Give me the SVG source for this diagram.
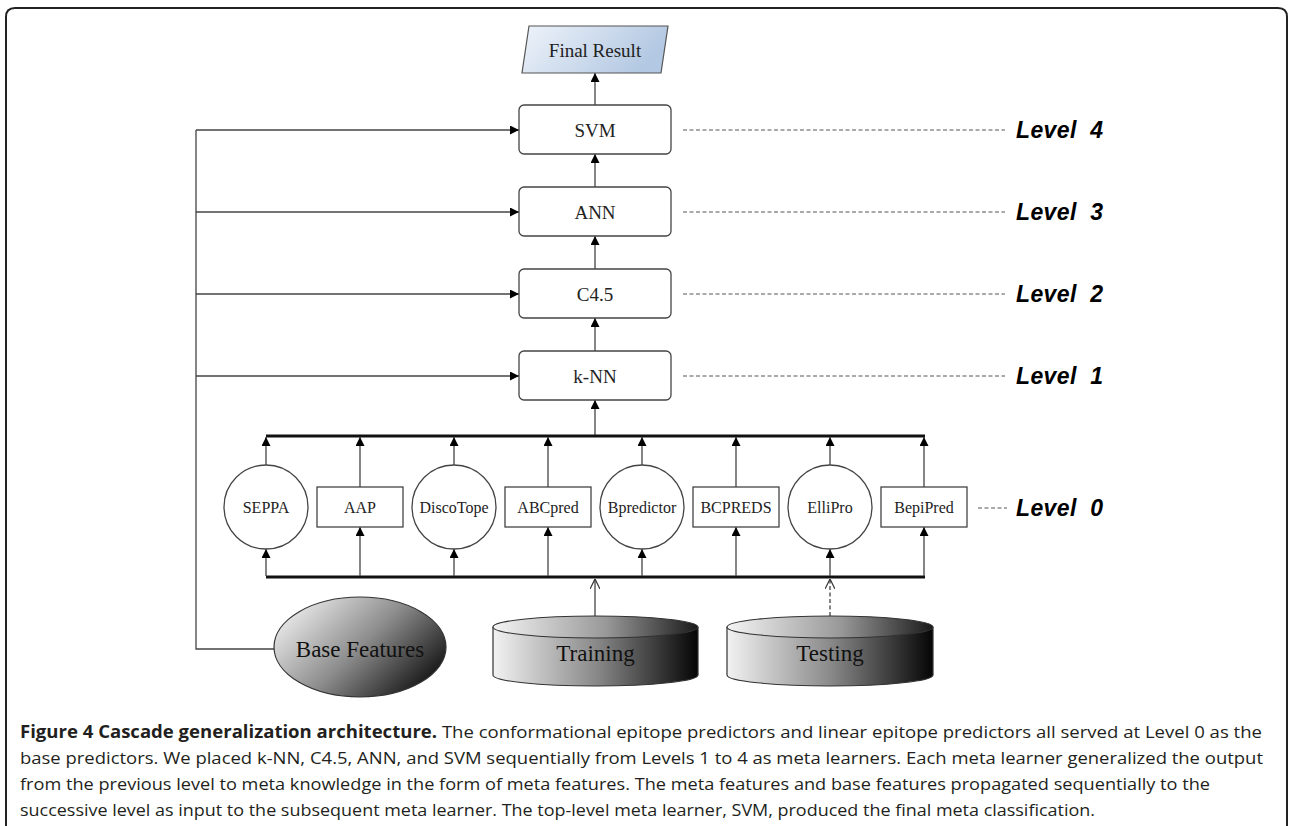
<svg xmlns="http://www.w3.org/2000/svg" width="1289" height="826" viewBox="0 0 1289 826">
<style>
.ln{stroke:#444;stroke-width:1.3;fill:none}
.bus{stroke:#111;stroke-width:3.2;fill:none}
.dash{stroke:#555;stroke-width:1;stroke-dasharray:4,2.5;fill:none}
.box{fill:#fff;stroke:#444;stroke-width:1.3}
.t16{font-family:"Liberation Serif","Times New Roman",serif;font-size:16px;fill:#222;text-anchor:middle;dominant-baseline:central}
.t19{font-family:"Liberation Serif","Times New Roman",serif;font-size:19px;fill:#222;text-anchor:middle;dominant-baseline:central}
.t23{font-family:"Liberation Serif","Times New Roman",serif;font-size:23px;fill:#111;text-anchor:middle;dominant-baseline:central}
.lv{font-family:"Liberation Sans",Arial,sans-serif;font-size:23px;font-weight:bold;font-style:italic;fill:#000;dominant-baseline:central}
.cap{font-family:"Open Sans","Noto Sans",sans-serif;font-size:17px;fill:#231f20}
</style>
<defs>
<marker id="ah" viewBox="0 0 10 10" refX="10" refY="5" markerWidth="9" markerHeight="9" markerUnits="userSpaceOnUse" orient="auto">
<path d="M0,0 L10,5 L0,10 z" fill="#000"/>
</marker>
<marker id="oa" viewBox="0 0 10 10" refX="10" refY="5" markerWidth="10" markerHeight="10" markerUnits="userSpaceOnUse" orient="auto">
<path d="M0,0 L10,5 L0,10" fill="none" stroke="#333" stroke-width="1.2"/>
</marker>
<linearGradient id="gBlue" x1="0" y1="0" x2="1" y2="0.3">
<stop offset="0" stop-color="#eef3fa"/>
<stop offset="1" stop-color="#b3c8e2"/>
</linearGradient>
<linearGradient id="gCyl" x1="0" y1="0" x2="1" y2="0">
<stop offset="0" stop-color="#f2f2f2"/>
<stop offset="0.5" stop-color="#8a8a8a"/>
<stop offset="1" stop-color="#050505"/>
</linearGradient>
<linearGradient id="gTop" x1="0" y1="0" x2="1" y2="0">
<stop offset="0" stop-color="#f4f4f4"/>
<stop offset="0.55" stop-color="#999"/>
<stop offset="1" stop-color="#1a1a1a"/>
</linearGradient>
<linearGradient id="gEll" x1="0" y1="0.2" x2="1" y2="0.8">
<stop offset="0" stop-color="#f0f0f0"/>
<stop offset="0.5" stop-color="#8c8c8c"/>
<stop offset="1" stop-color="#0a0a0a"/>
</linearGradient>
</defs>

<path d="M6,826 V17 Q6,8 15,8 H1278 Q1287,8 1287,17 V826" fill="none" stroke="#222" stroke-width="2"/>

<g id="connectors">
<line class="ln" x1="595" y1="105" x2="595" y2="73" marker-end="url(#ah)"/>
<line class="ln" x1="595" y1="187" x2="595" y2="154" marker-end="url(#ah)"/>
<line class="ln" x1="595" y1="269" x2="595" y2="236" marker-end="url(#ah)"/>
<line class="ln" x1="595" y1="351" x2="595" y2="318" marker-end="url(#ah)"/>
<line class="ln" x1="595" y1="436" x2="595" y2="400" marker-end="url(#ah)"/>
<path class="ln" d="M274,649 H196 V130"/>
<line class="ln" x1="196" y1="130" x2="519" y2="130" marker-end="url(#ah)"/>
<line class="ln" x1="196" y1="212" x2="519" y2="212" marker-end="url(#ah)"/>
<line class="ln" x1="196" y1="294" x2="519" y2="294" marker-end="url(#ah)"/>
<line class="ln" x1="196" y1="376" x2="519" y2="376" marker-end="url(#ah)"/>
<line class="dash" x1="683" y1="130" x2="1005" y2="130"/>
<line class="dash" x1="683" y1="212" x2="1005" y2="212"/>
<line class="dash" x1="683" y1="294" x2="1005" y2="294"/>
<line class="dash" x1="683" y1="376" x2="1005" y2="376"/>
<line class="dash" x1="978" y1="508" x2="1007" y2="508"/>
<line class="bus" x1="266" y1="436" x2="925" y2="436"/>
<line class="bus" x1="266" y1="577" x2="925" y2="577"/>
<line class="ln" x1="266" y1="465" x2="266" y2="437" marker-end="url(#ah)"/>
<line class="ln" x1="360" y1="487" x2="360" y2="437" marker-end="url(#ah)"/>
<line class="ln" x1="454" y1="465" x2="454" y2="437" marker-end="url(#ah)"/>
<line class="ln" x1="548" y1="487" x2="548" y2="437" marker-end="url(#ah)"/>
<line class="ln" x1="642" y1="465" x2="642" y2="437" marker-end="url(#ah)"/>
<line class="ln" x1="736" y1="487" x2="736" y2="437" marker-end="url(#ah)"/>
<line class="ln" x1="830" y1="465" x2="830" y2="437" marker-end="url(#ah)"/>
<line class="ln" x1="924" y1="487" x2="924" y2="437" marker-end="url(#ah)"/>
<line class="ln" x1="266" y1="576" x2="266" y2="549" marker-end="url(#ah)"/>
<line class="ln" x1="360" y1="576" x2="360" y2="527" marker-end="url(#ah)"/>
<line class="ln" x1="454" y1="576" x2="454" y2="549" marker-end="url(#ah)"/>
<line class="ln" x1="548" y1="576" x2="548" y2="527" marker-end="url(#ah)"/>
<line class="ln" x1="642" y1="576" x2="642" y2="549" marker-end="url(#ah)"/>
<line class="ln" x1="736" y1="576" x2="736" y2="527" marker-end="url(#ah)"/>
<line class="ln" x1="830" y1="576" x2="830" y2="549" marker-end="url(#ah)"/>
<line class="ln" x1="924" y1="576" x2="924" y2="527" marker-end="url(#ah)"/>
<line class="ln" x1="595" y1="616" x2="595" y2="579" marker-end="url(#oa)"/>
<line class="ln" x1="830" y1="616" x2="830" y2="579" stroke-dasharray="4,2.5" marker-end="url(#oa)"/>
</g>

<g id="final">
<polygon points="529,26 668,26 661,73 522,73" fill="url(#gBlue)" stroke="#555" stroke-width="1.2"/>
<text class="t19" x="595" y="50">Final Result</text>
</g>
<g id="svm"><rect class="box" x="519" y="105" width="152" height="49" rx="5"/><text class="t19" x="595" y="130">SVM</text></g>
<g id="ann"><rect class="box" x="519" y="187" width="152" height="49" rx="5"/><text class="t19" x="595" y="212">ANN</text></g>
<g id="c45"><rect class="box" x="519" y="269" width="152" height="49" rx="5"/><text class="t19" x="595" y="294">C4.5</text></g>
<g id="knn"><rect class="box" x="519" y="351" width="152" height="49" rx="5"/><text class="t19" x="595" y="376">k-NN</text></g>

<g id="seppa"><circle class="box" cx="266" cy="507" r="42"/><text class="t16" x="266" y="507">SEPPA</text></g>
<g id="aap"><rect class="box" x="317" y="487" width="86" height="40"/><text class="t16" x="360" y="507">AAP</text></g>
<g id="discotope"><circle class="box" cx="454" cy="507" r="42"/><text class="t16" x="454" y="507">DiscoTope</text></g>
<g id="abcpred"><rect class="box" x="505" y="487" width="86" height="40"/><text class="t16" x="548" y="507">ABCpred</text></g>
<g id="bpredictor"><circle class="box" cx="642" cy="507" r="42"/><text class="t16" x="642" y="507">Bpredictor</text></g>
<g id="bcpreds"><rect class="box" x="693" y="487" width="86" height="40"/><text class="t16" x="736" y="507">BCPREDS</text></g>
<g id="ellipro"><circle class="box" cx="830" cy="507" r="42"/><text class="t16" x="830" y="507">ElliPro</text></g>
<g id="bepipred"><rect class="box" x="881" y="487" width="86" height="40"/><text class="t16" x="924" y="507">BepiPred</text></g>

<g id="levels">
<text class="lv" x="1016" y="130" xml:space="preserve" textLength="87">Level  4</text>
<text class="lv" x="1016" y="212" xml:space="preserve" textLength="87">Level  3</text>
<text class="lv" x="1016" y="294" xml:space="preserve" textLength="87">Level  2</text>
<text class="lv" x="1016" y="376" xml:space="preserve" textLength="87">Level  1</text>
<text class="lv" x="1016" y="508" xml:space="preserve" textLength="87">Level  0</text>
</g>

<g id="basefeatures">
<ellipse cx="360" cy="647" rx="86" ry="50" fill="url(#gEll)" stroke="#333" stroke-width="1.2"/>
<text class="t23" x="360" y="649">Base Features</text>
</g>
<g id="training">
<path d="M493,627 V675 A102.5,11 0 0 0 698,675 V627" fill="url(#gCyl)" stroke="#333" stroke-width="1.2"/>
<ellipse cx="595.5" cy="627" rx="102.5" ry="11" fill="url(#gTop)" stroke="#333" stroke-width="1.2"/>
<text class="t23" x="595.5" y="653">Training</text>
</g>
<g id="testing">
<path d="M727,627 V675 A103,11 0 0 0 933,675 V627" fill="url(#gCyl)" stroke="#333" stroke-width="1.2"/>
<ellipse cx="830" cy="627" rx="103" ry="11" fill="url(#gTop)" stroke="#333" stroke-width="1.2"/>
<text class="t23" x="830" y="653">Testing</text>
</g>

<g id="caption">
<text class="cap" x="20" y="738" textLength="1242" lengthAdjust="spacingAndGlyphs"><tspan font-weight="bold">Figure 4 Cascade generalization architecture.</tspan> The conformational epitope predictors and linear epitope predictors all served at Level 0 as the</text>
<text class="cap" x="20" y="764" textLength="1243" lengthAdjust="spacingAndGlyphs">base predictors. We placed k-NN, C4.5, ANN, and SVM sequentially from Levels 1 to 4 as meta learners. Each meta learner generalized the output</text>
<text class="cap" x="20" y="790" textLength="1190" lengthAdjust="spacingAndGlyphs">from the previous level to meta knowledge in the form of meta features. The meta features and base features propagated sequentially to the</text>
<text class="cap" x="20" y="816" textLength="1075" lengthAdjust="spacingAndGlyphs">successive level as input to the subsequent meta learner. The top-level meta learner, SVM, produced the final meta classification.</text>
</g>
</svg>
